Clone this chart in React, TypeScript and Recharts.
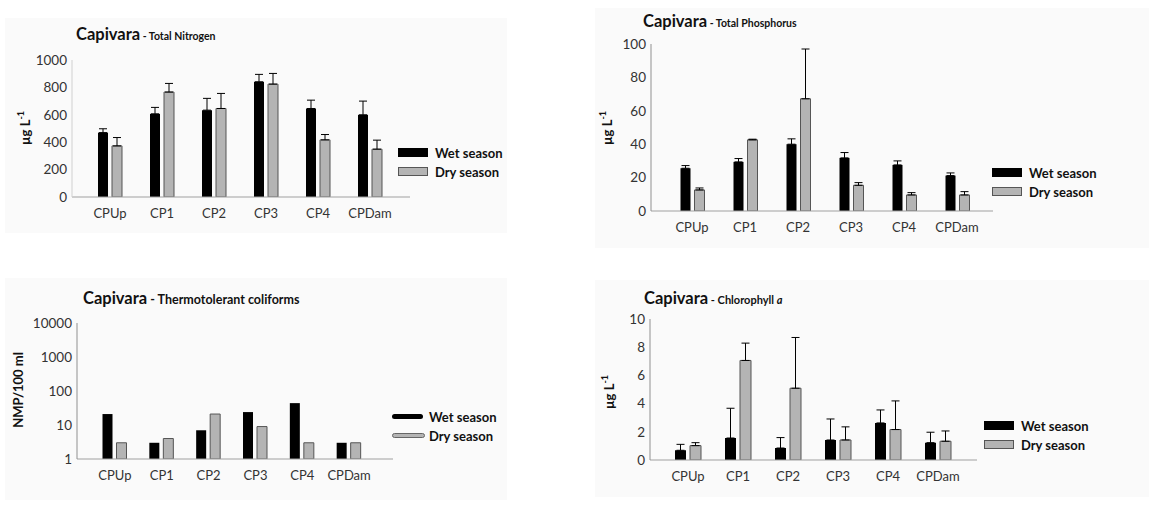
import React from 'react';
import { BarChart, Bar, XAxis, YAxis, ErrorBar } from 'recharts';

const stations = ['CPUp', 'CP1', 'CP2', 'CP3', 'CP4', 'CPDam'];

const nitrogenWet = [470, 607, 634, 841, 646, 600];
const nitrogenWetErr = [28, 47, 86, 54, 61, 100];
const nitrogenDry = [373, 766, 646, 824, 417, 349];
const nitrogenDryErr = [61, 63, 110, 78, 39, 66];
const nitrogenTicks = [0, 200, 400, 600, 800, 1000];

const phosphorusWet = [25.6, 29.4, 40, 31.8, 27.6, 21.2];
const phosphorusWetErr = [1.6, 2, 3.2, 3.2, 2.4, 1.6];
const phosphorusDry = [12.6, 42.6, 67.2, 15.4, 9.6, 9.6];
const phosphorusDryErr = [1.2, 0.4, 29.8, 1.6, 1.4, 2];
const phosphorusTicks = [0, 20, 40, 60, 80, 100];

const coliformWet = [21, 3, 7, 24, 44, 3];
const coliformDry = [3, 4, 21, 9, 3, 3];
const coliformTicks = [1, 10, 100, 1000, 10000];

const chlorophyllWet = [0.69, 1.56, 0.85, 1.42, 2.63, 1.23];
const chlorophyllWetErr = [0.42, 2.11, 0.74, 1.49, 0.92, 0.74];
const chlorophyllDry = [1.02, 7.06, 5.09, 1.42, 2.16, 1.33];
const chlorophyllDryErr = [0.21, 1.23, 3.6, 0.93, 2.03, 0.73];
const chlorophyllTicks = [0, 2, 4, 6, 8, 10];

const FONT = 'Lato, "Open Sans", sans-serif';
const GRAY = '#b4b4b4';

const makeRows = (wet: number[], dry: number[], wetErr?: number[], dryErr?: number[]) =>
  stations.map((s, i) => ({
    station: s,
    wet: wet[i],
    dry: dry[i],
    wetErr: wetErr ? [0, wetErr[i]] : undefined,
    dryErr: dryErr ? [0, dryErr[i]] : undefined,
  }));

const ugL = (
  <span>
    µg L<sup style={{ fontSize: 9, verticalAlign: 6 }}>-1</sup>
  </span>
);

interface PanelProps {
  box: { left: number; top: number; width: number; height: number };
  plot: { left: number; right: number; top: number; bottom: number };
  bg: { left: number; top: number; width: number; height: number };
  spacing: number;
  firstCenter: number;
  lastCenter: number;
  data: any[];
  domain: [number, number];
  ticks: number[];
  log?: boolean;
  errors?: boolean;
  barSize: number;
  subtitle: React.ReactNode;
  subtitleSize: number;
  title: { left: number; top: number };
  yLabel: React.ReactNode;
  yLabelPos: { x: number; y: number };
  legend: { left: number; top: number; lines?: boolean };
  yAxisColor: string;
}

const Swatch = ({ wet, lines }: { wet: boolean; lines?: boolean }) => {
  if (lines) {
    return (
      <div
        style={{
          width: 31,
          height: wet ? 5 : 3,
          background: wet ? '#000' : GRAY,
          border: wet ? 'none' : '1px solid #666',
          borderRadius: 3,
        }}
      />
    );
  }
  return (
    <div
      style={{
        width: wet ? 30 : 28,
        height: wet ? 9 : 7,
        background: wet ? '#000' : GRAY,
        border: wet ? 'none' : '1px solid #555',
      }}
    />
  );
};

const Panel = (p: PanelProps) => {
  const xAxisHeight = 30;
  const padLeft = p.firstCenter - p.plot.left - p.spacing / 2;
  const padRight = p.plot.right - p.lastCenter - p.spacing / 2;
  const margin = {
    top: p.plot.top - p.box.top,
    right: p.box.left + p.box.width - p.plot.right,
    bottom: p.box.top + p.box.height - p.plot.bottom - xAxisHeight,
    left: 0,
  };
  return (
    <>
      <div
        style={{
          position: 'absolute',
          left: p.bg.left,
          top: p.bg.top,
          width: p.bg.width,
          height: p.bg.height,
          background: '#fafafa',
        }}
      />
      <div style={{ position: 'absolute', left: p.box.left, top: p.box.top }}>
        <BarChart
          width={p.box.width}
          height={p.box.height}
          data={p.data}
          margin={margin}
          barGap={4}
          barSize={p.barSize}
        >
          <XAxis
            dataKey="station"
            height={xAxisHeight}
            padding={{ left: padLeft, right: padRight }}
            axisLine={{ stroke: '#a0a0a0' }}
            tickLine={false}
            tickMargin={6}
            interval={0}
            tick={{ fill: '#333', fontSize: 13, fontFamily: FONT }}
          />
          <YAxis
            width={p.plot.left - p.box.left}
            domain={p.domain}
            ticks={p.ticks}
            scale={p.log ? 'log' : 'auto'}
            type="number"
            allowDataOverflow
            axisLine={{ stroke: p.yAxisColor }}
            tickLine={false}
            tickSize={4}
            tickMargin={1}
            interval={0}
            tick={{ fill: '#333', fontSize: 13.5, fontFamily: FONT }}
          />
          <Bar dataKey="wet" fill="#000" isAnimationActive={false}>
            {p.errors && (
              <ErrorBar dataKey="wetErr" direction="y" width={4} stroke="#000" strokeWidth={1} />
            )}
          </Bar>
          <Bar dataKey="dry" fill={GRAY} stroke="#555" strokeWidth={1} isAnimationActive={false}>
            {p.errors && (
              <ErrorBar dataKey="dryErr" direction="y" width={4} stroke="#000" strokeWidth={1} />
            )}
          </Bar>
        </BarChart>
      </div>
      <div
        style={{
          position: 'absolute',
          left: p.title.left,
          top: p.title.top,
          fontFamily: FONT,
          fontWeight: 700,
          color: '#111',
          whiteSpace: 'nowrap',
        }}
      >
        <span style={{ fontSize: 16.5 }}>Capivara</span>
        <span style={{ fontSize: p.subtitleSize }}> {p.subtitle}</span>
      </div>
      <div
        style={{
          position: 'absolute',
          left: p.yLabelPos.x,
          top: p.yLabelPos.y,
          transform: 'translate(-50%, -50%) rotate(-90deg)',
          fontFamily: FONT,
          fontWeight: 700,
          fontSize: 13,
          color: '#111',
          whiteSpace: 'nowrap',
        }}
      >
        {p.yLabel}
      </div>
      <div
        style={{
          position: 'absolute',
          left: p.legend.left,
          top: p.legend.top,
          fontFamily: FONT,
          fontWeight: 700,
          fontSize: 13,
          color: '#111',
        }}
      >
        {[true, false].map((wet) => (
          <div key={String(wet)} style={{ display: 'flex', alignItems: 'center', height: 19 }}>
            <div style={{ width: 37, display: 'flex', alignItems: 'center' }}>
              <Swatch wet={wet} lines={p.legend.lines} />
            </div>
            <span>{wet ? 'Wet season' : 'Dry season'}</span>
          </div>
        ))}
      </div>
    </>
  );
};

export default function App() {
  return (
    <div
      style={{
        position: 'absolute',
        left: 0,
        top: 0,
        width: 1149,
        height: 529,
        background: '#fff',
        overflow: 'hidden',
      }}
    >
      <Panel
        box={{ left: 0, top: 0, width: 520, height: 240 }}
        plot={{ left: 72, right: 410, top: 60, bottom: 197 }}
        bg={{ left: 5, top: 18, width: 502, height: 215 }}
        spacing={52}
        firstCenter={110}
        lastCenter={370}
        data={makeRows(nitrogenWet, nitrogenDry, nitrogenWetErr, nitrogenDryErr)}
        domain={[0, 1000]}
        ticks={nitrogenTicks}
        errors
        barSize={10}
        title={{ left: 76, top: 24 }}
        subtitle="- Total Nitrogen"
        subtitleSize={10.5}
        yLabel={ugL}
        yLabelPos={{ x: 24, y: 128 }}
        legend={{ left: 398, top: 143 }}
        yAxisColor="#d0d0d0"
      />
      <Panel
        box={{ left: 580, top: 0, width: 569, height: 250 }}
        plot={{ left: 651, right: 993, top: 44, bottom: 211 }}
        bg={{ left: 595, top: 8, width: 554, height: 240 }}
        spacing={53}
        firstCenter={692}
        lastCenter={957}
        data={makeRows(phosphorusWet, phosphorusDry, phosphorusWetErr, phosphorusDryErr)}
        domain={[0, 100]}
        ticks={phosphorusTicks}
        errors
        barSize={10}
        title={{ left: 643, top: 11 }}
        subtitle="- Total Phosphorus"
        subtitleSize={10.5}
        yLabel={ugL}
        yLabelPos={{ x: 606, y: 128 }}
        legend={{ left: 992, top: 163 }}
        yAxisColor="#909090"
      />
      <Panel
        box={{ left: 0, top: 270, width: 520, height: 240 }}
        plot={{ left: 77, right: 393, top: 323, bottom: 459 }}
        bg={{ left: 5, top: 278, width: 502, height: 222 }}
        spacing={47}
        firstCenter={115}
        lastCenter={349}
        data={makeRows(coliformWet, coliformDry)}
        domain={[1, 10000]}
        ticks={coliformTicks}
        log
        barSize={10}
        title={{ left: 83, top: 288 }}
        subtitle="- Thermotolerant coliforms"
        subtitleSize={12.5}
        yLabel="NMP/100 ml"
        yLabelPos={{ x: 18, y: 390 }}
        legend={{ left: 392, top: 407, lines: true }}
        yAxisColor="#909090"
      />
      <Panel
        box={{ left: 580, top: 270, width: 569, height: 250 }}
        plot={{ left: 650, right: 977, top: 319, bottom: 460 }}
        bg={{ left: 595, top: 280, width: 554, height: 217 }}
        spacing={50}
        firstCenter={688}
        lastCenter={938}
        data={makeRows(chlorophyllWet, chlorophyllDry, chlorophyllWetErr, chlorophyllDryErr)}
        domain={[0, 10]}
        ticks={chlorophyllTicks}
        errors
        barSize={11}
        title={{ left: 644, top: 288 }}
        subtitle={
          <>
            - Chlorophyll <i>a</i>
          </>
        }
        subtitleSize={11}
        yLabel={ugL}
        yLabelPos={{ x: 608, y: 392 }}
        legend={{ left: 984, top: 416 }}
        yAxisColor="#909090"
      />
    </div>
  );
}
